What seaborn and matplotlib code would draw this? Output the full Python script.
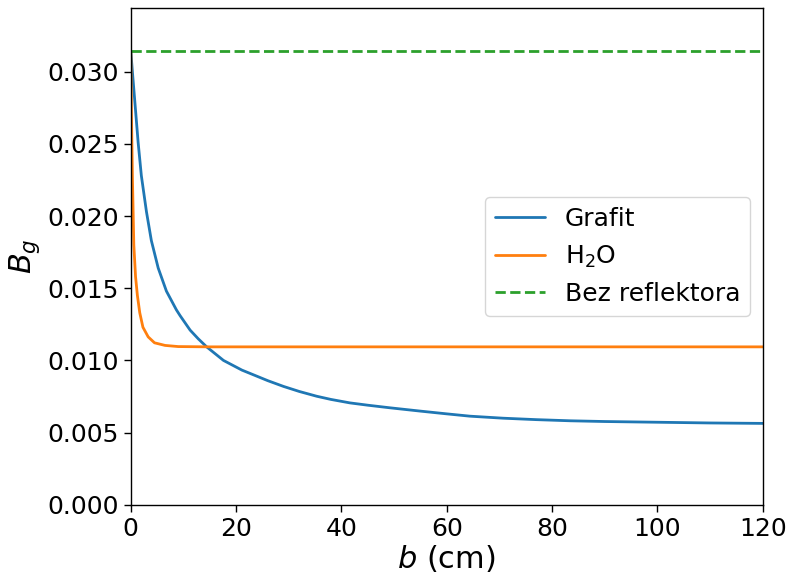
import numpy as np
import pandas as pd
import matplotlib
matplotlib.use('Agg')
import matplotlib.pyplot as plt
import seaborn as sns

# values
b_grafit = [0, 0.3, 0.88, 1.39, 2.0, 2.97, 3.9, 5.2, 6.76, 8.66, 9.36, 11.26, 12.8, 14.4, 17.6,
            21.1, 22.65, 26, 29, 32, 35.3, 38, 41.6, 45, 49.2, 55, 60, 64.4, 70.7, 77, 83.5,
            90, 100, 110, 120]
bg_grafit = [0.0314, 0.0300, 0.0274, 0.0251, 0.0228, 0.0203, 0.0183, 0.0164, 0.0148, 0.0135,
             0.0131, 0.0121, 0.0115, 0.01094, 0.0100, 0.00933, 0.0091, 0.0086, 0.0082,
             0.00785, 0.00752, 0.0073, 0.00706, 0.0069, 0.00672, 0.00649, 0.0063, 0.00614,
             0.0060, 0.0059, 0.00582, 0.00577, 0.00572, 0.00567, 0.00564]

b_h2o = [0, 0.12, 0.31, 0.57, 0.9, 1.25, 1.7, 2.3, 3.3, 4.5, 6.5, 9, 15, 60, 120]
bg_h2o = [0.0314, 0.0272, 0.0226, 0.0180, 0.0158, 0.0145, 0.0133, 0.0123, 0.01163, 0.01122,
          0.01104, 0.01096, 0.01094, 0.01094, 0.01094]

b_bare = [0, 120]
bg_bare = [0.0314, 0.0314]

labels = ['Grafit', 'H$_2$O', 'Bez reflektora']

sns.set_theme(style='ticks', rc={'axes.edgecolor': 'black', 'text.color': 'black',
                                 'axes.labelcolor': 'black', 'xtick.color': 'black',
                                 'ytick.color': 'black', 'axes.linewidth': 1.0})
plt.rcParams['font.family'] = ['DejaVu Sans']

fig = plt.figure(figsize=(7.88, 5.75), dpi=100)
ax = fig.add_axes([0.166, 0.122, 0.802, 0.864])

colors = ['#1f77b4', '#ff7f0e', '#2ca02c']
sns.lineplot(x=b_grafit, y=bg_grafit, ax=ax, color=colors[0], lw=2, label=labels[0])
sns.lineplot(x=b_h2o, y=bg_h2o, ax=ax, color=colors[1], lw=2, label=labels[1])
sns.lineplot(x=b_bare, y=bg_bare, ax=ax, color=colors[2], lw=2, ls='--', label=labels[2])

ax.set_xlim(0, 120)
ax.set_ylim(0, 0.0344)
ax.set_yticks([0, 0.005, 0.010, 0.015, 0.020, 0.025, 0.030])
ax.set_yticklabels(['0.000', '0.005', '0.010', '0.015', '0.020', '0.025', '0.030'])
ax.tick_params(labelsize=18, length=5, width=1)
ax.set_xlabel('$b$ (cm)', fontsize=22, labelpad=2)
ax.set_ylabel('$B_g$', fontsize=22)
ax.legend(loc='center right', fontsize=18)

fig.savefig('out.png', dpi=100)
